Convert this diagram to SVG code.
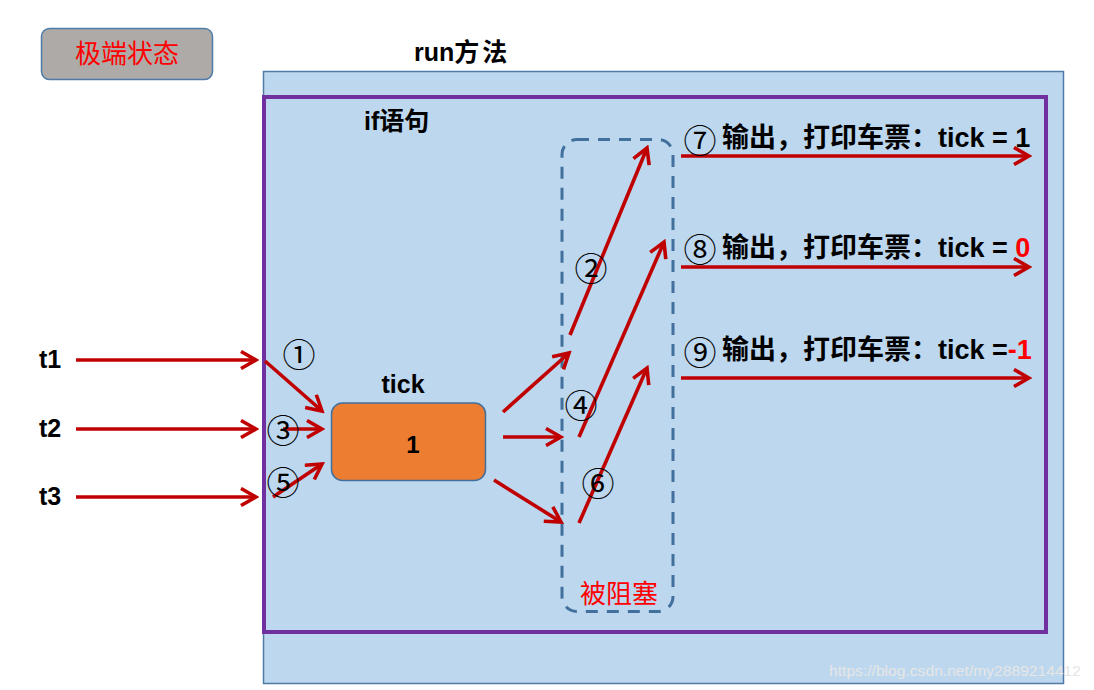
<svg xmlns="http://www.w3.org/2000/svg" width="1094" height="690" viewBox="0 0 1094 690">
<defs>
<style>
.lbl{font-family:"Liberation Sans","Noto Sans CJK SC",sans-serif;font-weight:bold;fill:#000;}
.red{fill:#FF0000;}
.circ{font-family:"Noto Sans CJK SC","DejaVu Sans",sans-serif;font-size:33px;fill:#000;text-anchor:middle;dominant-baseline:central;}
.arr{stroke:#C00000;stroke-width:3.6;fill:none;marker-end:url(#ah);}
.out{font-family:"Liberation Sans","Noto Sans CJK SC",sans-serif;font-weight:bold;font-size:27px;fill:#000;}
</style>
<marker id="ah" viewBox="0 0 20 20" refX="17" refY="10" markerWidth="20" markerHeight="20" markerUnits="userSpaceOnUse" orient="auto">
<path d="M2,1.5 L17,10 L2,18.5" fill="none" stroke="#C00000" stroke-width="3.6"/>
</marker>
</defs>
<rect width="1094" height="690" fill="#FFFFFF"/>

<g id="extreme">
<rect x="41.5" y="28.5" width="171" height="51" rx="8" fill="#ADAAA8" stroke="#4F7BA8" stroke-width="1.5"/>
<text x="127" y="63" text-anchor="middle" font-family="'Noto Sans CJK SC',sans-serif" font-size="26" fill="#FF0000">极端状态</text>
</g>

<g id="run">
<text x="414" y="61" class="lbl" font-size="25">run<tspan font-size="25" letter-spacing="3">方法</tspan></text>
<rect x="263.5" y="71.5" width="800" height="612" fill="#BDD7EE" stroke="#4F7BA8" stroke-width="1.5"/>
</g>

<g id="if">
<rect x="264" y="97" width="782" height="535" fill="none" stroke="#7030A0" stroke-width="4"/>
<text x="364" y="130" class="lbl" font-size="25">if语句</text>
</g>

<g id="blocked">
<rect x="562" y="139.5" width="111" height="472" rx="15" fill="none" stroke="#41709C" stroke-width="3" stroke-dasharray="12,9"/>
<text x="619" y="603" text-anchor="middle" font-family="'Noto Sans CJK SC',sans-serif" font-size="26" fill="#FF0000">被阻塞</text>
</g>

<g id="tick">
<text x="403" y="393" text-anchor="middle" class="lbl" font-size="25">tick</text>
<rect x="331.5" y="403" width="154" height="77.5" rx="11" fill="#ED7D31" stroke="#41709C" stroke-width="1.5"/>
<text x="413" y="453" text-anchor="middle" class="lbl" font-size="24">1</text>
</g>

<g id="threads">
<text x="39" y="368" class="lbl" font-size="25">t1</text>
<text x="39" y="437" class="lbl" font-size="25">t2</text>
<text x="39" y="505" class="lbl" font-size="25">t3</text>
</g>

<g id="outputs">
<text x="722" y="147" class="out">输出，打印车票：tick = 1</text>
<text x="722" y="257" class="out">输出，打印车票：tick = <tspan class="red">0</tspan></text>
<text x="722" y="359" class="out">输出，打印车票：tick =<tspan class="red">-1</tspan></text>
</g>

<g id="connectors">
<path class="arr" d="M76,360 L256,360"/>
<path class="arr" d="M76,429 L256,429"/>
<path class="arr" d="M76,497 L256,497"/>
<path class="arr" d="M265,361 L322,411"/>
<path class="arr" d="M283,429 L322,429"/>
<path class="arr" d="M273,497 L322,464"/>
<path class="arr" d="M503,412 L569,353"/>
<path class="arr" d="M503,437 L561,437"/>
<path class="arr" d="M494,480 L561,522"/>
<path class="arr" d="M570,335 L647,148"/>
<path class="arr" d="M579,437 L664,242"/>
<path class="arr" d="M579,523 L647,368"/>
<path class="arr" d="M681,156 L1029,156"/>
<path class="arr" d="M681,267 L1029,267"/>
<path class="arr" d="M681,378 L1029,378"/>
</g>

<g id="steps">
<text x="299" y="353" class="circ">①</text>
<text x="591" y="267" class="circ">②</text>
<text x="283" y="429" class="circ">③</text>
<text x="581" y="404" class="circ">④</text>
<text x="283" y="481" class="circ">⑤</text>
<text x="598" y="482" class="circ">⑥</text>
<text x="700" y="139" class="circ">⑦</text>
<text x="700" y="248" class="circ">⑧</text>
<text x="700" y="351" class="circ">⑨</text>
</g>

<text x="829" y="676" font-family="'Liberation Sans',sans-serif" font-size="15" textLength="252" lengthAdjust="spacingAndGlyphs" fill="#E6E6E6">https://blog.csdn.net/my2889214412</text>
</svg>
